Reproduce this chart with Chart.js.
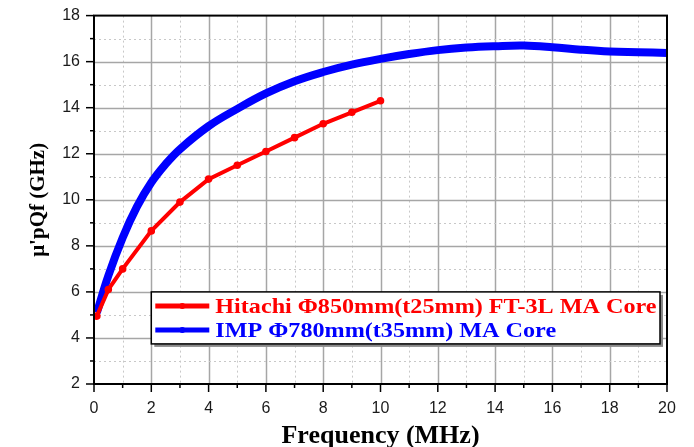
<!DOCTYPE html>
<html>
<head>
<meta charset="utf-8">
<script src="https://cdn.jsdelivr.net/npm/chart.js@4.4.1/dist/chart.umd.min.js"></script>
<style>
  html, body { margin: 0; padding: 0; background: #fff; }
  #wrap { width: 694px; height: 447px; }
</style>
</head>
<body>
<div id="wrap"><canvas id="chart" width="694" height="447"></canvas></div>
<script>
// Frequency (MHz) vs u'pQf (GHz)
const freqHitachi = [0.1, 0.5, 1, 2, 3, 4, 5, 6, 7, 8, 9, 10];
const qfHitachi = [4.95, 6.1, 7.0, 8.65, 9.9, 10.9, 11.5, 12.1, 12.7, 13.3, 13.8, 14.3];

const freqIMP = [0.1, 0.5, 1, 1.5, 2, 2.5, 3, 4, 5, 6, 7, 8, 9, 10, 11, 12, 13, 14, 15, 16, 17, 18, 19, 20];
const qfIMP = [5.1, 6.7, 8.35, 9.7, 10.75, 11.55, 12.2, 13.2, 13.95, 14.62, 15.15, 15.55, 15.87, 16.12, 16.33, 16.5, 16.61, 16.67, 16.7, 16.63, 16.52, 16.44, 16.41, 16.38];

const seriesNames = ['Hitachi \u03A6850mm(t25mm) FT-3L MA Core', 'IMP \u03A6780mm(t35mm) MA Core'];
const seriesColors = ['#ff0000', '#0000ff'];

const xTicks = [0, 2, 4, 6, 8, 10, 12, 14, 16, 18, 20];
const yTicks = [2, 4, 6, 8, 10, 12, 14, 16, 18];

const toPoints = (xs, ys) => xs.map((x, i) => ({ x: x, y: ys[i] }));

// grid, frame, ticks and legend drawn around the library scales
const framePlugin = {
    id: 'frame',
    beforeDatasetsDraw(chart) {
        const { ctx, chartArea: a, scales: { x, y } } = chart;
        ctx.save();
        for (let v = x.min + 1; v < x.max; v++) {
            const px = Math.round(x.getPixelForValue(v)) + 0.5;
            const major = v % 2 === 0;
            ctx.strokeStyle = major ? '#a6a6a6' : '#c8c8c8';
            ctx.lineWidth = major ? 1.5 : 1;
            ctx.setLineDash(major ? [] : [2, 3]);
            ctx.beginPath(); ctx.moveTo(px, a.top); ctx.lineTo(px, a.bottom); ctx.stroke();
        }
        for (let v = y.min + 1; v < y.max; v++) {
            const py = Math.round(y.getPixelForValue(v)) + 0.5;
            const major = v % 2 === 0;
            ctx.strokeStyle = major ? '#a6a6a6' : '#c8c8c8';
            ctx.lineWidth = major ? 1.5 : 1;
            ctx.setLineDash(major ? [] : [2, 3]);
            ctx.beginPath(); ctx.moveTo(a.left, py); ctx.lineTo(a.right, py); ctx.stroke();
        }
        ctx.restore();
    },
    afterDatasetsDraw(chart) {
        const { ctx, chartArea: a, scales: { x, y } } = chart;
        ctx.save();
        ctx.setLineDash([]);
        ctx.strokeStyle = '#000';
        ctx.lineWidth = 2;
        ctx.strokeRect(a.left, a.top, a.right - a.left, a.bottom - a.top);

        ctx.lineWidth = 1.5;
        for (let v = x.min; v <= x.max; v++) {
            const px = x.getPixelForValue(v);
            const len = v % 2 === 0 ? 8 : 4;
            ctx.beginPath(); ctx.moveTo(px, a.bottom); ctx.lineTo(px, a.bottom + len); ctx.stroke();
        }
        for (let v = y.min; v <= y.max; v++) {
            const py = y.getPixelForValue(v);
            const len = v % 2 === 0 ? 8 : 4;
            ctx.beginPath(); ctx.moveTo(a.left, py); ctx.lineTo(a.left - len, py); ctx.stroke();
        }

        // legend box
        const left = x.getPixelForValue(2);
        const top = y.getPixelForValue(6);
        const right = a.right - 7;
        const bottom = top + 52;
        ctx.fillStyle = '#8a8a8a';
        ctx.fillRect(left + 3, top + 3, right - left, bottom - top);
        ctx.fillStyle = '#fff';
        ctx.fillRect(left, top, right - left, bottom - top);
        ctx.strokeStyle = '#000';
        ctx.lineWidth = 1.5;
        ctx.strokeRect(left, top, right - left, bottom - top);

        const rows = [top + 14, top + 38];
        seriesNames.forEach((name, i) => {
            const ry = rows[i];
            ctx.strokeStyle = seriesColors[i];
            ctx.lineWidth = 5;
            ctx.beginPath(); ctx.moveTo(left + 4, ry); ctx.lineTo(left + 58, ry); ctx.stroke();
            ctx.fillStyle = seriesColors[i];
            ctx.beginPath(); ctx.arc(left + 31, ry, 3, 0, Math.PI * 2); ctx.fill();

            ctx.save();
            ctx.translate(left + 64, ry + 7);
            ctx.scale(1.15, 1);
            ctx.font = 'bold 21px "Liberation Serif", "Times New Roman", serif';
            ctx.textBaseline = 'alphabetic';
            ctx.fillText(name, 0, 0);
            ctx.restore();
        });
        ctx.restore();
    }
};

const ctx = document.getElementById('chart');
new Chart(ctx, {
    type: 'line',
    data: {
        datasets: [{
            label: seriesNames[0],
            data: toPoints(freqHitachi, qfHitachi),
            borderColor: seriesColors[0],
            backgroundColor: seriesColors[0],
            borderWidth: 4,
            pointRadius: 1.8,
            pointHoverRadius: 1.8,
            tension: 0
        }, {
            label: seriesNames[1],
            data: toPoints(freqIMP, qfIMP),
            borderColor: seriesColors[1],
            backgroundColor: seriesColors[1],
            borderWidth: 8,
            pointRadius: 0,
            tension: 0.4
        }]
    },
    options: {
        responsive: false,
        animation: false,
        events: [],
        layout: { padding: { top: 13, right: 27, left: 0, bottom: 0 } },
        plugins: {
            legend: { display: false },
            tooltip: { enabled: false }
        },
        scales: {
            x: {
                type: 'linear',
                min: 0,
                max: 20,
                afterBuildTicks: s => { s.ticks = xTicks.map(v => ({ value: v })); },
                afterFit: s => { s.height = 63; },
                grid: { display: false },
                border: { display: false },
                ticks: {
                    padding: 7,
                    color: '#1a1a1a',
                    font: { family: '"Liberation Sans", Arial, sans-serif', size: 16 }
                },
                title: {
                    display: true,
                    text: 'Frequency (MHz)',
                    color: '#000',
                    padding: { top: 6, bottom: -2 },
                    font: { family: '"Liberation Serif", "Times New Roman", serif', size: 26, weight: 'bold', lineHeight: 1 }
                }
            },
            y: {
                type: 'linear',
                min: 2,
                max: 18,
                afterBuildTicks: s => { s.ticks = yTicks.map(v => ({ value: v })); },
                afterFit: s => { s.width = 94; },
                grid: { display: false },
                border: { display: false },
                ticks: {
                    padding: 6,
                    color: '#1a1a1a',
                    font: { family: '"Liberation Sans", Arial, sans-serif', size: 16 }
                },
                title: {
                    display: true,
                    text: "\u03BC'pQf (GHz)",
                    color: '#000',
                    padding: { top: 26, bottom: 0 },
                    font: { family: '"Liberation Serif", "Times New Roman", serif', size: 21, weight: 'bold' }
                }
            }
        }
    },
    plugins: [framePlugin]
});
</script>
</body>
</html>
